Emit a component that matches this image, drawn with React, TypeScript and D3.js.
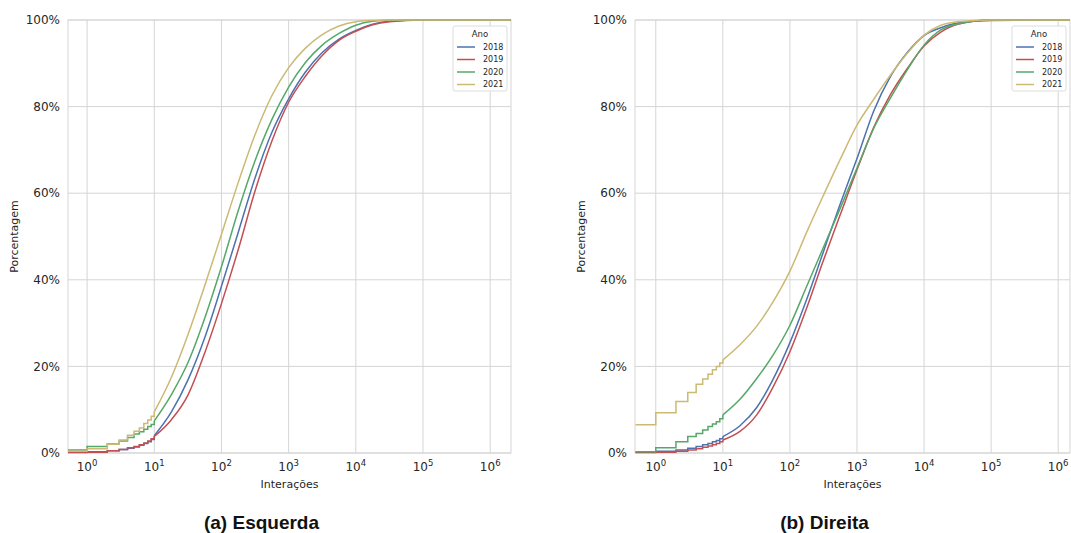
import * as d3 from 'd3'

const years = ['2018', '2019', '2020', '2021']
const colors = ['#4c72b0', '#c44e52', '#55a868', '#ccb974']

const xs = [0.5, 1, 2, 3, 4, 5, 6, 7, 8, 9, 10, 18, 32, 56, 100, 178, 316, 562, 1000, 1778, 3162, 5623, 10000, 17783, 31623, 100000, 2000000]

// (a) Esquerda, percent
const left2018 = [0.2, 0.3, 0.5, 0.8, 1.1, 1.4, 1.8, 2.2, 2.6, 3.1, 4.0, 9.5, 17, 26.5, 38.5, 51, 63.5, 74, 81.8, 88, 92.5, 95.6, 97.6, 99, 99.7, 100, 100]
const left2019 = [0.1, 0.2, 0.5, 0.8, 1.2, 1.5, 1.9, 2.3, 2.8, 3.3, 3.8, 7.7, 13.5, 23, 34.5, 47, 60.5, 72, 81, 87, 91.8, 95.3, 97.4, 98.9, 99.6, 100, 100]
const left2020 = [0.7, 1.5, 2.1, 2.8, 3.6, 4.4, 4.9, 5.5, 6.1, 6.6, 7.4, 13.5, 21, 31, 43, 56, 67.5, 77, 84.5, 90.2, 94.2, 96.9, 98.8, 99.7, 99.95, 100, 100]
const left2021 = [0.4, 1.0, 2.0, 3.0, 4.1, 5.0, 5.8, 6.8, 7.6, 8.5, 9.5, 17.5, 27.5, 38.5, 50.5, 62.5, 73.5, 82.5, 89, 93.5, 96.6, 98.6, 99.6, 99.9, 100, 100, 100]

// (b) Direita, percent
const right2018 = [0.2, 0.4, 0.7, 1.1, 1.5, 1.9, 2.2, 2.6, 2.9, 3.3, 3.8, 6.3, 10.5, 17, 25.5, 35.5, 46.5, 57.5, 68, 79, 87, 92.5, 96.4, 98.2, 99.3, 99.9, 100]
const right2019 = [0.1, 0.2, 0.4, 0.7, 1.0, 1.3, 1.6, 1.9, 2.2, 2.6, 3.0, 5.0, 8.8, 15.2, 23.4, 33.5, 44.5, 55, 65.4, 75.2, 82.8, 88.8, 94, 97.2, 99, 100, 100]
const right2020 = [0.3, 1.2, 2.6, 3.8, 4.5, 5.3, 6.1, 6.7, 7.2, 7.9, 8.8, 12.4, 17.2, 22.6, 29.5, 38.5, 47.5, 56.5, 65.8, 75, 82, 88.5, 94.2, 97.7, 99.1, 100, 100]
const right2021 = [6.5, 9.3, 11.9, 14, 15.9, 17.1, 18.2, 19.2, 20, 20.8, 21.5, 25, 29.3, 34.9, 42, 51, 59.5, 67.8, 75.7, 81.7, 87.3, 92.3, 96.5, 98.8, 99.6, 100, 100]

const yTicks = [0, 20, 40, 60, 80, 100]
const xTickExps = [0, 1, 2, 3, 4, 5, 6]

const font = 'DejaVu Sans, sans-serif'
const textColor = '#262626'
const gridColor = '#d5d5d5'
const stepMax = 10

type PanelProps = {
  x0: number
  x1: number
  domain: [number, number]
  series: number[][]
  title: string
  id: string
}

const top = 20
const bottom = 453

function Panel({ x0, x1, domain, series, title, id }: PanelProps) {
  const x = d3.scaleLog().domain(domain).range([x0, x1])
  const y = d3.scaleLinear().domain([0, 100]).range([bottom, top])

  const stepLine = d3
    .line<[number, number]>()
    .x((d) => x(d[0]))
    .y((d) => y(d[1]))
    .curve(d3.curveStepAfter)
  const smoothLine = d3
    .line<[number, number]>()
    .x((d) => x(d[0]))
    .y((d) => y(d[1]))
    .curve(d3.curveMonotoneX)

  const cx = (x0 + x1) / 2
  const legendX = x1 - 58
  const legendY = 26

  return (
    <g>
      <defs>
        <clipPath id={id}>
          <rect x={x0} y={top - 2} width={x1 - x0} height={bottom - top + 3} />
        </clipPath>
      </defs>
      {yTicks.map((t) => (
        <g key={t}>
          <line x1={x0} x2={x1} y1={y(t)} y2={y(t)} stroke={gridColor} strokeWidth={1} />
          <text x={x0 - 8} y={y(t)} dy="0.35em" textAnchor="end" fontSize={12} fill={textColor}>
            {t}%
          </text>
        </g>
      ))}
      {xTickExps.map((e) => (
        <g key={e}>
          <line x1={x(10 ** e)} x2={x(10 ** e)} y1={top} y2={bottom} stroke={gridColor} strokeWidth={1} />
          <text x={x(10 ** e)} y={bottom + 18} textAnchor="middle" fontSize={12} fill={textColor}>
            10<tspan dy={-5} fontSize={8.5}>{e}</tspan>
          </text>
        </g>
      ))}
      <rect x={x0} y={top} width={x1 - x0} height={bottom - top} fill="none" stroke={gridColor} strokeWidth={1} />
      <g clipPath={`url(#${id})`}>
        {series.map((vals, i) => {
          const pts = xs.map((v, k) => [v, vals[k]] as [number, number])
          return (
            <g key={years[i]}>
              <path d={stepLine(pts.filter((p) => p[0] <= stepMax)) ?? ''} fill="none" stroke={colors[i]} strokeWidth={1.5} />
              <path d={smoothLine(pts.filter((p) => p[0] >= stepMax)) ?? ''} fill="none" stroke={colors[i]} strokeWidth={1.5} />
            </g>
          )
        })}
      </g>
      <text x={cx} y={bottom + 35} textAnchor="middle" fontSize={11} fill={textColor}>
        Interações
      </text>
      <text
        transform={`translate(${x0 - 50},${(top + bottom) / 2}) rotate(-90)`}
        textAnchor="middle"
        fontSize={11}
        fill={textColor}
      >
        Porcentagem
      </text>
      <g transform={`translate(${legendX},${legendY})`}>
        <rect width={54} height={65} rx={2} fill="white" fillOpacity={0.85} stroke="#dddddd" />
        <text x={27} y={11} textAnchor="middle" fontSize={8.5} fill={textColor}>
          Ano
        </text>
        {years.map((yr, i) => (
          <g key={yr} transform={`translate(0,${21 + i * 12.5})`}>
            <line x1={4} x2={22} y1={0} y2={0} stroke={colors[i]} strokeWidth={1.5} />
            <text x={30} y={0} dy="0.35em" fontSize={8} fill={textColor}>
              {yr}
            </text>
          </g>
        ))}
      </g>
      <text x={cx - 28} y={529} textAnchor="middle" fontSize={19} fontWeight="bold" fontFamily="Liberation Sans, Arial, sans-serif" fill="#111">
        {title}
      </text>
    </g>
  )
}

export default function App() {
  return (
    <svg width={1071} height={533} style={{ position: 'absolute', left: 0, top: 0, fontFamily: font }}>
      <rect width={1071} height={533} fill="white" />
      <Panel x0={68} x1={511} domain={[0.52, 2040000]} series={[left2018, left2019, left2020, left2021]} title="(a) Esquerda" id="clipA" />
      <Panel x0={635} x1={1070} domain={[0.49, 1500000]} series={[right2018, right2019, right2020, right2021]} title="(b) Direita" id="clipB" />
    </svg>
  )
}
